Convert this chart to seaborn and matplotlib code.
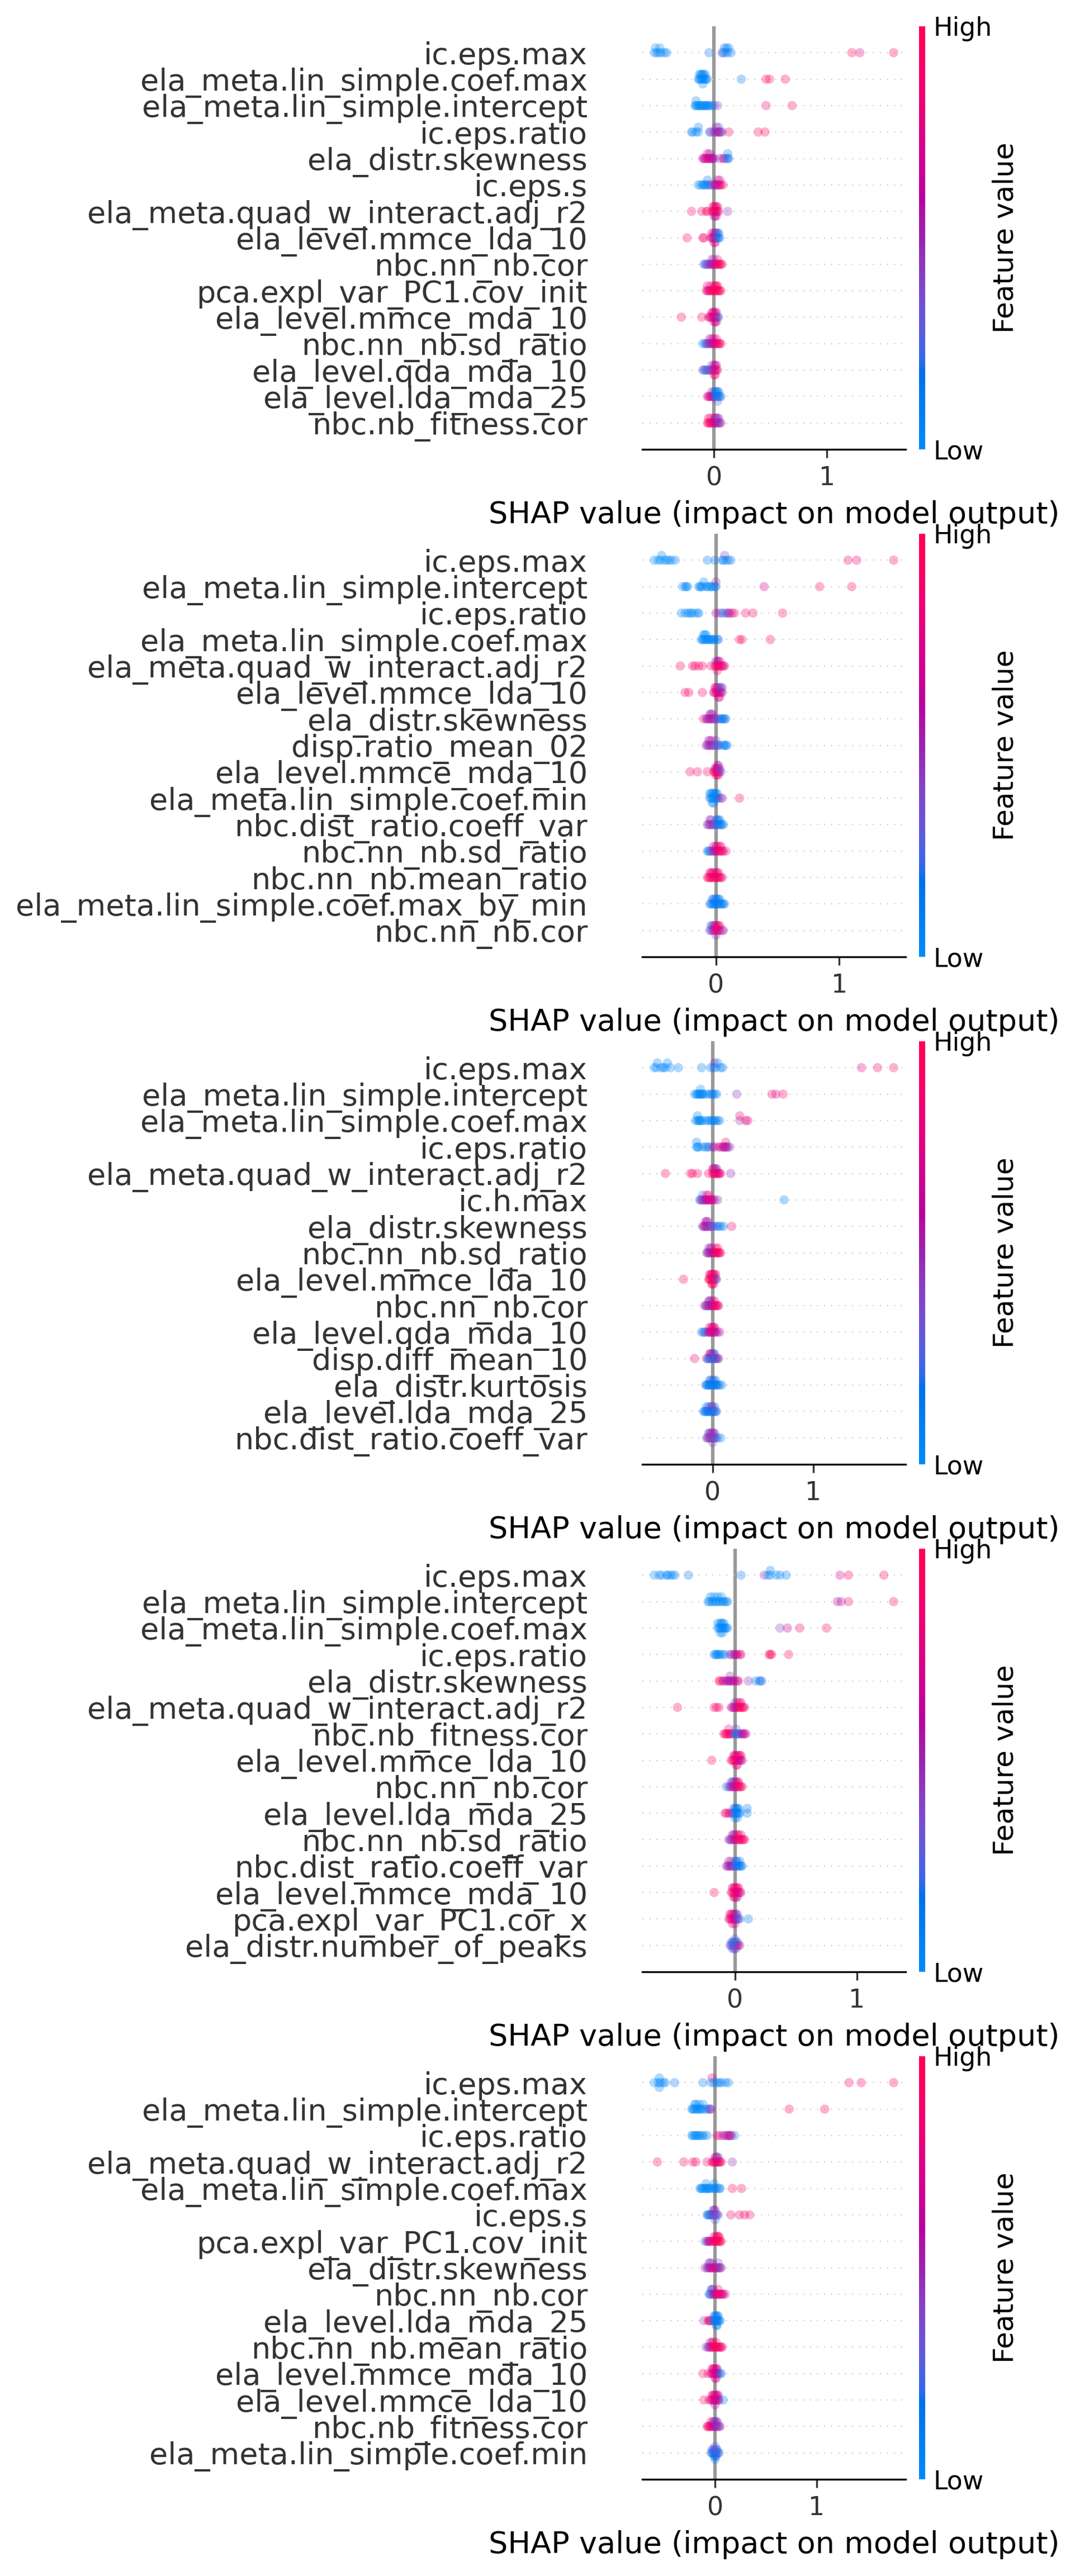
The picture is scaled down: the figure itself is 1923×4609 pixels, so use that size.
import numpy as np
import pandas as pd
import matplotlib
matplotlib.use("Agg")
import matplotlib.pyplot as plt
import seaborn as sns
from matplotlib.colors import LinearSegmentedColormap, Normalize
from matplotlib.cm import ScalarMappable

# ---------------- data (top feature first) ----------------
P1_FEATURES = ["ic.eps.max", "ela_meta.lin_simple.coef.max", "ela_meta.lin_simple.intercept", "ic.eps.ratio",
               "ela_distr.skewness", "ic.eps.s", "ela_meta.quad_w_interact.adj_r2", "ela_level.mmce_lda_10",
               "nbc.nn_nb.cor", "pca.expl_var_PC1.cov_init", "ela_level.mmce_mda_10", "nbc.nn_nb.sd_ratio",
               "ela_level.qda_mda_10", "ela_level.lda_mda_25", "nbc.nb_fitness.cor"]
P1_SHAP = [
    [-0.53,-0.52,-0.51,-0.49,-0.48,-0.47,-0.44,-0.42,-0.045,0.07,0.08,0.09,0.10,0.11,0.12,0.13,0.15,1.22,1.29,1.59],
    [-0.14,-0.13,-0.13,-0.12,-0.12,-0.11,-0.11,-0.10,-0.10,-0.10,-0.09,-0.09,-0.08,-0.08,-0.07,-0.06,0.24,0.46,0.49,0.63],
    [-0.17,-0.16,-0.16,-0.15,-0.14,-0.13,-0.12,-0.11,-0.10,-0.09,-0.08,-0.07,-0.06,-0.05,-0.04,-0.02,0.0,0.03,0.46,0.69],
    [-0.20,-0.19,-0.16,-0.14,-0.14,-0.04,-0.03,0.0,0.01,0.02,0.02,0.03,0.04,0.04,0.05,0.06,0.07,0.13,0.39,0.45],
    [-0.10,-0.09,-0.08,-0.07,-0.06,-0.06,-0.05,-0.04,-0.04,-0.03,-0.02,-0.01,0.0,0.05,0.08,0.09,0.11,0.12,0.12,0.13],
    [-0.14,-0.12,-0.10,-0.09,-0.08,-0.06,-0.06,-0.05,-0.03,-0.02,0.0,0.01,0.02,0.03,0.03,0.04,0.05,0.05,0.06,0.08],
    [-0.20,-0.11,-0.07,-0.06,-0.02,-0.01,-0.01,0.0,0.0,0.0,0.01,0.01,0.01,0.02,0.02,0.02,0.03,0.03,0.04,0.12],
    [-0.24,-0.10,-0.09,-0.03,-0.02,-0.02,-0.01,0.0,0.0,0.0,0.01,0.01,0.01,0.02,0.02,0.03,0.03,0.04,0.04,0.05],
    [-0.09,-0.08,-0.07,-0.06,-0.05,-0.04,-0.03,-0.02,-0.02,-0.01,0.0,0.0,0.01,0.02,0.03,0.03,0.04,0.05,0.06,0.07],
    [-0.07,-0.06,-0.06,-0.05,-0.04,-0.03,-0.03,-0.02,-0.01,0.0,0.0,0.01,0.01,0.02,0.02,0.03,0.03,0.04,0.05,0.06],
    [-0.29,-0.11,-0.05,-0.04,-0.03,-0.02,-0.02,-0.01,-0.01,0.0,0.0,0.0,0.01,0.01,0.01,0.02,0.02,0.02,0.03,0.04],
    [-0.10,-0.08,-0.07,-0.06,-0.05,-0.04,-0.04,-0.03,-0.02,-0.02,-0.01,0.0,0.0,0.01,0.02,0.02,0.03,0.04,0.05,0.06],
    [-0.10,-0.09,-0.08,-0.07,-0.06,-0.05,-0.04,-0.03,-0.02,-0.02,-0.01,0.0,0.0,0.0,0.01,0.01,0.01,0.02,0.02,0.03],
    [-0.06,-0.05,-0.04,-0.03,-0.02,-0.02,-0.01,0.0,0.0,0.01,0.01,0.02,0.02,0.03,0.03,0.03,0.04,0.04,0.05,0.06],
    [-0.06,-0.05,-0.05,-0.04,-0.03,-0.03,-0.02,-0.01,0.0,0.0,0.01,0.01,0.02,0.02,0.03,0.03,0.04,0.04,0.05,0.06],
]
P1_FVAL = [
    [0.02,0.0,0.05,0.03,0.0,0.04,0.02,0.05,0.1,0.45,0.05,0.1,0.02,0.08,0.12,0.05,0.1,0.95,0.75,0.95],
    [0.0,0.02,0.0,0.03,0.0,0.02,0.0,0.04,0.0,0.02,0.0,0.03,0.01,0.0,0.02,0.05,0.1,0.9,0.95,0.9],
    [0.02,0.0,0.03,0.0,0.02,0.0,0.03,0.05,0.0,0.02,0.04,0.0,0.03,0.05,0.02,0.08,0.1,0.45,0.85,0.9],
    [0.05,0.0,0.05,0.02,0.1,0.15,0.5,0.45,0.4,0.35,0.55,0.6,0.7,0.3,0.65,0.5,0.3,0.9,0.95,0.95],
    [0.6,0.7,0.75,0.7,0.8,0.65,0.7,0.75,0.6,0.7,0.6,0.55,0.6,0.5,0.6,0.75,0.3,0.05,0.1,0.15],
    [0.05,0.05,0.0,0.1,0.05,0.1,0.15,0.05,0.2,0.4,0.5,0.6,0.7,0.45,0.75,0.65,0.8,0.6,0.9,0.9],
    [0.9,0.9,0.95,0.9,0.95,0.95,0.7,1.0,0.95,0.55,1.0,0.9,0.5,0.95,0.8,0.85,0.7,0.95,0.85,0.45],
    [0.9,0.9,0.85,0.8,0.7,0.85,0.9,0.75,0.6,0.8,0.85,0.5,0.7,0.4,0.65,0.2,0.3,0.1,0.15,0.05],
    [0.25,0.3,0.2,0.4,0.35,0.5,0.45,0.6,0.5,0.55,0.65,0.4,0.7,0.8,0.85,0.9,0.9,0.95,0.9,0.95],
    [0.8,0.9,0.85,0.55,0.95,0.9,0.7,1.0,0.95,1.0,0.95,1.0,0.9,0.95,0.9,1.0,0.95,1.0,0.95,0.9],
    [0.9,0.9,0.7,0.8,0.85,0.75,0.85,0.9,0.75,0.8,0.7,0.85,0.85,0.65,0.8,0.75,0.9,0.6,0.5,0.2],
    [0.1,0.2,0.15,0.4,0.5,0.45,0.55,0.55,0.5,0.6,0.6,0.65,0.7,0.7,0.75,0.8,0.85,0.9,0.95,0.9],
    [0.3,0.2,0.25,0.3,0.2,0.35,0.3,0.4,0.45,0.4,0.3,0.5,0.7,0.85,0.8,0.6,0.9,0.85,0.7,0.8],
    [0.75,0.7,0.8,0.85,0.65,0.8,0.6,0.5,0.2,0.3,0.15,0.15,0.05,0.1,0.1,0.3,0.05,0.15,0.1,0.2],
    [0.9,0.95,0.9,0.9,0.95,0.85,0.85,0.9,0.8,0.9,0.7,0.6,0.6,0.5,0.55,0.4,0.5,0.45,0.45,0.5],
]

P2_FEATURES = ["ic.eps.max", "ela_meta.lin_simple.intercept", "ic.eps.ratio", "ela_meta.lin_simple.coef.max",
               "ela_meta.quad_w_interact.adj_r2", "ela_level.mmce_lda_10", "ela_distr.skewness", "disp.ratio_mean_02",
               "ela_level.mmce_mda_10", "ela_meta.lin_simple.coef.min", "nbc.dist_ratio.coeff_var",
               "nbc.nn_nb.sd_ratio", "nbc.nn_nb.mean_ratio", "ela_meta.lin_simple.coef.max_by_min", "nbc.nn_nb.cor"]
P2_SHAP = [
    [-0.50,-0.47,-0.45,-0.44,-0.42,-0.40,-0.38,-0.36,-0.33,-0.07,-0.01,0.05,0.06,0.07,0.08,0.10,0.12,1.07,1.14,1.44],
    [-0.27,-0.25,-0.24,-0.23,-0.14,-0.13,-0.12,-0.11,-0.10,-0.08,-0.07,-0.05,-0.04,-0.03,-0.01,0.0,0.0,0.39,0.84,1.10],
    [-0.28,-0.25,-0.23,-0.21,-0.20,-0.18,-0.15,-0.14,0.0,0.03,0.05,0.07,0.09,0.10,0.11,0.13,0.15,0.24,0.30,0.54],
    [-0.12,-0.11,-0.10,-0.10,-0.09,-0.09,-0.08,-0.08,-0.07,-0.06,-0.05,-0.04,-0.03,-0.02,-0.01,0.01,0.02,0.19,0.21,0.44],
    [-0.29,-0.19,-0.17,-0.14,-0.11,-0.04,-0.01,0.0,0.0,0.01,0.01,0.01,0.02,0.02,0.03,0.03,0.04,0.05,0.06,0.07],
    [-0.25,-0.22,-0.11,-0.02,-0.01,-0.01,0.0,0.0,0.01,0.01,0.02,0.02,0.02,0.03,0.03,0.03,0.04,0.04,0.05,0.05],
    [-0.10,-0.08,-0.07,-0.06,-0.05,-0.05,-0.04,-0.04,-0.03,-0.03,-0.02,-0.01,0.0,0.02,0.03,0.04,0.05,0.06,0.07,0.08],
    [-0.08,-0.07,-0.06,-0.06,-0.05,-0.05,-0.04,-0.03,-0.03,-0.02,-0.01,0.0,0.0,0.01,0.02,0.03,0.06,0.07,0.08,0.09],
    [-0.21,-0.15,-0.07,-0.02,-0.01,-0.01,0.0,0.0,0.0,0.01,0.01,0.01,0.01,0.02,0.02,0.02,0.02,0.03,0.03,0.04],
    [-0.05,-0.05,-0.04,-0.04,-0.03,-0.03,-0.03,-0.02,-0.02,-0.02,-0.01,-0.01,0.0,0.0,0.01,0.01,0.02,0.04,0.05,0.19],
    [-0.07,-0.06,-0.05,-0.05,-0.04,-0.04,-0.03,-0.02,-0.01,0.0,0.0,0.01,0.01,0.02,0.02,0.03,0.03,0.04,0.05,0.06],
    [-0.07,-0.06,-0.05,-0.04,-0.03,-0.02,-0.02,-0.01,0.0,0.0,0.01,0.01,0.02,0.03,0.03,0.04,0.04,0.05,0.06,0.08],
    [-0.07,-0.06,-0.05,-0.05,-0.04,-0.04,-0.03,-0.03,-0.02,-0.02,-0.01,0.0,0.0,0.01,0.01,0.02,0.02,0.03,0.04,0.05],
    [-0.05,-0.04,-0.03,-0.03,-0.02,-0.02,-0.01,-0.01,0.0,0.0,0.01,0.01,0.02,0.02,0.03,0.03,0.04,0.05,0.06,0.07],
    [-0.05,-0.04,-0.04,-0.03,-0.03,-0.02,-0.02,-0.01,-0.01,0.0,0.0,0.0,0.01,0.01,0.02,0.02,0.03,0.03,0.05,0.06],
]
P2_FVAL = [
    [0.02,0.0,0.05,0.03,0.0,0.04,0.02,0.05,0.03,0.1,0.1,0.05,0.1,0.4,0.02,0.08,0.1,0.75,0.9,0.9],
    [0.05,0.0,0.03,0.05,0.02,0.0,0.04,0.02,0.0,0.03,0.05,0.02,0.0,0.04,0.08,0.05,0.45,0.7,0.9,0.9],
    [0.05,0.02,0.0,0.04,0.0,0.03,0.05,0.02,0.6,0.5,0.2,0.1,0.4,0.55,0.45,0.75,0.85,0.9,0.9,0.9],
    [0.02,0.0,0.03,0.0,0.02,0.0,0.04,0.0,0.02,0.03,0.0,0.05,0.02,0.04,0.06,0.08,0.1,0.9,0.95,0.9],
    [0.9,0.9,0.95,0.9,0.9,0.85,0.95,0.9,0.5,1.0,0.45,0.85,0.95,0.6,0.9,0.8,0.95,0.9,0.9,0.75],
    [0.9,0.9,0.9,0.7,0.8,0.85,0.85,0.7,0.75,0.9,0.8,0.85,0.65,0.7,0.3,0.8,0.75,0.2,0.6,0.5],
    [0.8,0.6,0.55,0.5,0.6,0.4,0.45,0.6,0.65,0.55,0.5,0.55,0.4,0.35,0.2,0.3,0.1,0.05,0.1,0.15],
    [0.5,0.45,0.5,0.4,0.55,0.6,0.45,0.5,0.7,0.4,0.45,0.3,0.35,0.35,0.25,0.2,0.1,0.1,0.05,0.1],
    [0.9,0.9,0.9,0.9,0.85,0.8,0.95,0.7,0.9,0.9,0.6,0.95,0.7,0.85,0.75,0.85,0.55,0.8,0.4,0.3],
    [0.02,0.0,0.05,0.0,0.03,0.0,0.05,0.02,0.0,0.04,0.0,0.05,0.02,0.1,0.0,0.05,0.2,0.45,0.5,0.9],
    [0.5,0.45,0.5,0.45,0.4,0.5,0.5,0.45,0.4,0.35,0.3,0.2,0.1,0.1,0.1,0.05,0.15,0.1,0.05,0.1],
    [0.05,0.1,0.15,0.3,0.4,0.5,0.6,0.55,0.6,0.7,0.7,0.85,0.8,0.9,0.9,0.95,0.9,0.9,0.85,0.75],
    [0.9,0.95,1.0,0.9,0.9,0.95,0.95,0.8,0.9,0.85,0.85,0.95,0.75,0.9,0.8,0.85,0.9,0.95,0.9,0.85],
    [0.1,0.05,0.1,0.2,0.05,0.1,0.15,0.3,0.05,0.1,0.1,0.05,0.1,0.05,0.15,0.1,0.05,0.1,0.05,0.1],
    [0.3,0.4,0.2,0.35,0.3,0.5,0.4,0.7,0.6,0.8,0.75,0.45,0.85,0.8,0.9,0.85,0.85,0.9,0.6,0.5],
]

P3_FEATURES = ["ic.eps.max", "ela_meta.lin_simple.intercept", "ela_meta.lin_simple.coef.max", "ic.eps.ratio",
               "ela_meta.quad_w_interact.adj_r2", "ic.h.max", "ela_distr.skewness", "nbc.nn_nb.sd_ratio",
               "ela_level.mmce_lda_10", "nbc.nn_nb.cor", "ela_level.qda_mda_10", "disp.diff_mean_10",
               "ela_distr.kurtosis", "ela_level.lda_mda_25", "nbc.dist_ratio.coeff_var"]
P3_SHAP = [
    [-0.58,-0.56,-0.55,-0.51,-0.49,-0.47,-0.45,-0.42,-0.34,-0.11,-0.02,0.01,0.02,0.03,0.05,0.08,0.10,1.48,1.64,1.80],
    [-0.18,-0.16,-0.15,-0.14,-0.13,-0.12,-0.12,-0.11,-0.10,-0.09,-0.06,-0.03,-0.01,0.0,0.02,0.04,0.24,0.59,0.63,0.70],
    [-0.17,-0.15,-0.15,-0.14,-0.13,-0.12,-0.11,-0.08,-0.05,-0.03,-0.01,0.0,0.02,0.03,0.05,0.07,0.27,0.27,0.33,0.35],
    [-0.16,-0.16,-0.15,-0.14,-0.10,-0.07,-0.05,-0.03,0.0,0.02,0.06,0.08,0.10,0.11,0.12,0.13,0.13,0.14,0.15,0.17],
    [-0.47,-0.22,-0.20,-0.15,-0.04,0.0,0.0,0.01,0.01,0.02,0.02,0.03,0.03,0.04,0.04,0.05,0.06,0.07,0.08,0.18],
    [-0.13,-0.12,-0.11,-0.10,-0.10,-0.09,-0.08,-0.07,-0.06,-0.06,-0.05,-0.04,-0.04,-0.03,-0.02,-0.01,0.0,0.02,0.05,0.71],
    [-0.10,-0.09,-0.08,-0.07,-0.07,-0.06,-0.06,-0.05,-0.05,-0.04,-0.03,-0.02,-0.01,0.0,0.02,0.04,0.06,0.08,0.11,0.19],
    [-0.06,-0.05,-0.04,-0.04,-0.03,-0.02,-0.02,-0.01,-0.01,0.0,0.01,0.02,0.03,0.03,0.04,0.05,0.05,0.06,0.07,0.08],
    [-0.29,-0.04,-0.03,-0.03,-0.02,-0.02,-0.01,-0.01,-0.01,0.0,0.0,0.0,0.01,0.01,0.01,0.02,0.02,0.03,0.03,0.04],
    [-0.08,-0.07,-0.06,-0.05,-0.04,-0.04,-0.03,-0.03,-0.02,-0.02,-0.01,0.0,0.0,0.01,0.02,0.02,0.03,0.04,0.05,0.06],
    [-0.11,-0.09,-0.08,-0.07,-0.05,-0.04,-0.03,-0.03,-0.02,-0.01,-0.01,0.0,0.0,0.01,0.01,0.02,0.02,0.03,0.05,0.07],
    [-0.18,-0.06,-0.05,-0.04,-0.03,-0.03,-0.02,-0.02,-0.01,-0.01,0.0,0.0,0.01,0.01,0.02,0.02,0.03,0.04,0.05,0.06],
    [-0.07,-0.06,-0.05,-0.04,-0.03,-0.03,-0.02,-0.02,-0.01,0.0,0.0,0.01,0.01,0.02,0.03,0.03,0.04,0.05,0.07,0.09],
    [-0.09,-0.08,-0.07,-0.06,-0.06,-0.05,-0.04,-0.04,-0.03,-0.02,-0.02,-0.01,-0.01,0.0,0.0,0.01,0.02,0.02,0.03,0.04],
    [-0.06,-0.05,-0.04,-0.04,-0.03,-0.03,-0.02,-0.02,-0.01,-0.01,0.0,0.0,0.0,0.01,0.01,0.02,0.02,0.03,0.05,0.08],
]
P3_FVAL = [
    [0.02,0.0,0.05,0.03,0.0,0.04,0.02,0.05,0.08,0.1,0.1,0.2,0.45,0.1,0.05,0.1,0.05,0.75,0.9,0.9],
    [0.0,0.03,0.0,0.02,0.0,0.04,0.0,0.02,0.03,0.05,0.05,0.08,0.1,0.05,0.08,0.1,0.45,0.85,0.75,0.9],
    [0.02,0.0,0.05,0.03,0.0,0.04,0.02,0.05,0.08,0.05,0.1,0.02,0.1,0.05,0.03,0.08,0.45,0.85,0.75,0.8],
    [0.0,0.05,0.02,0.0,0.1,0.15,0.1,0.15,0.5,0.6,0.8,0.7,0.55,0.65,0.6,0.75,0.85,0.5,0.55,0.45],
    [0.9,0.9,0.95,0.9,0.85,0.95,0.85,1.0,0.9,0.95,0.6,0.9,0.2,1.0,0.8,0.95,0.85,0.7,0.8,0.5],
    [0.2,0.3,0.4,0.5,0.3,0.3,0.45,0.55,0.6,0.7,0.65,0.7,0.85,0.75,0.8,0.85,0.7,0.6,0.5,0.1],
    [0.45,0.55,0.5,0.6,0.5,0.5,0.6,0.55,0.55,0.45,0.5,0.4,0.45,0.35,0.3,0.2,0.1,0.15,0.1,0.85],
    [0.5,0.45,0.5,0.45,0.55,0.5,0.6,0.45,0.5,0.5,0.6,0.8,0.9,0.9,0.95,1.0,0.95,0.95,0.9,0.85],
    [0.9,0.9,0.95,0.9,1.0,0.85,0.95,0.85,1.0,1.0,0.9,0.95,0.95,0.8,0.9,0.9,0.95,0.85,0.9,0.2],
    [0.45,0.5,0.4,0.5,0.55,0.45,0.45,0.55,0.5,0.45,0.55,0.6,0.5,0.8,0.9,0.85,0.95,0.9,0.85,0.8],
    [0.15,0.1,0.2,0.3,0.4,0.5,0.6,0.65,0.7,0.75,0.8,0.8,0.9,0.75,0.85,0.7,0.75,0.65,0.5,0.6],
    [0.85,0.7,0.2,0.3,0.15,0.7,0.25,0.65,0.1,0.2,0.3,0.75,0.15,0.8,0.5,0.1,0.2,0.35,0.15,0.7],
    [0.1,0.05,0.15,0.1,0.05,0.2,0.1,0.25,0.15,0.05,0.2,0.1,0.15,0.05,0.1,0.2,0.05,0.15,0.1,0.1],
    [0.15,0.1,0.2,0.05,0.1,0.1,0.15,0.2,0.1,0.2,0.3,0.1,0.3,0.05,0.85,0.15,0.1,0.05,0.2,0.25],
    [0.4,0.45,0.4,0.4,0.5,0.3,0.45,0.55,0.4,0.3,0.5,0.8,0.35,0.45,0.4,0.35,0.45,0.4,0.2,0.1],
]

P4_FEATURES = ["ic.eps.max", "ela_meta.lin_simple.intercept", "ela_meta.lin_simple.coef.max", "ic.eps.ratio",
               "ela_distr.skewness", "ela_meta.quad_w_interact.adj_r2", "nbc.nb_fitness.cor", "ela_level.mmce_lda_10",
               "nbc.nn_nb.cor", "ela_level.lda_mda_25", "nbc.nn_nb.sd_ratio", "nbc.dist_ratio.coeff_var",
               "ela_level.mmce_mda_10", "pca.expl_var_PC1.cor_x", "ela_distr.number_of_peaks"]
P4_SHAP = [
    [-0.66,-0.62,-0.60,-0.56,-0.55,-0.53,-0.51,-0.49,-0.38,0.05,0.24,0.27,0.29,0.29,0.34,0.37,0.42,0.86,0.93,1.22],
    [-0.22,-0.21,-0.20,-0.19,-0.18,-0.17,-0.16,-0.15,-0.14,-0.13,-0.12,-0.11,-0.10,-0.09,-0.07,-0.06,0.84,0.87,0.93,1.30],
    [-0.14,-0.14,-0.13,-0.12,-0.12,-0.12,-0.11,-0.11,-0.10,-0.10,-0.10,-0.09,-0.09,-0.08,-0.07,-0.06,0.37,0.43,0.53,0.75],
    [-0.17,-0.16,-0.15,-0.14,-0.13,-0.12,-0.10,-0.08,-0.04,-0.03,-0.01,0.0,0.01,0.02,0.04,0.05,0.28,0.29,0.30,0.44],
    [-0.13,-0.12,-0.10,-0.09,-0.07,-0.06,-0.05,-0.04,-0.04,-0.03,-0.02,-0.01,0.0,0.02,0.03,0.11,0.17,0.20,0.21,0.22],
    [-0.47,-0.17,-0.15,-0.13,-0.03,-0.02,-0.01,0.0,0.0,0.01,0.02,0.02,0.03,0.04,0.04,0.05,0.05,0.06,0.07,0.08],
    [-0.09,-0.08,-0.07,-0.06,-0.05,-0.05,-0.04,-0.03,-0.02,0.0,0.01,0.01,0.02,0.03,0.04,0.05,0.06,0.07,0.08,0.09],
    [-0.19,-0.03,-0.02,-0.01,-0.01,0.0,0.0,0.01,0.01,0.01,0.02,0.02,0.02,0.03,0.03,0.04,0.04,0.05,0.05,0.06],
    [-0.07,-0.05,-0.04,-0.03,-0.03,-0.02,-0.02,-0.01,-0.01,0.0,0.0,0.01,0.01,0.02,0.02,0.03,0.03,0.04,0.05,0.06],
    [-0.08,-0.07,-0.05,-0.04,-0.02,-0.01,-0.01,0.0,0.0,0.0,0.01,0.01,0.02,0.02,0.02,0.03,0.03,0.04,0.10,0.10],
    [-0.05,-0.04,-0.03,-0.02,-0.02,-0.01,-0.01,0.0,0.0,0.01,0.02,0.02,0.03,0.03,0.04,0.05,0.05,0.06,0.07,0.08],
    [-0.07,-0.06,-0.05,-0.05,-0.04,-0.03,-0.03,-0.02,-0.01,0.0,0.0,0.01,0.01,0.02,0.02,0.03,0.04,0.04,0.05,0.06],
    [-0.17,-0.03,-0.02,-0.02,-0.01,-0.01,-0.01,0.0,0.0,0.0,0.01,0.01,0.01,0.02,0.02,0.02,0.03,0.03,0.04,0.05],
    [-0.05,-0.04,-0.04,-0.03,-0.03,-0.02,-0.02,-0.02,-0.01,-0.01,0.0,0.0,0.0,0.01,0.01,0.02,0.02,0.03,0.04,0.11],
    [-0.04,-0.03,-0.03,-0.02,-0.02,-0.02,-0.01,-0.01,-0.01,0.0,0.0,0.0,0.0,0.01,0.01,0.01,0.02,0.02,0.03,0.04],
]
P4_FVAL = [
    [0.02,0.0,0.05,0.03,0.0,0.04,0.02,0.05,0.1,0.1,0.45,0.05,0.0,0.1,0.03,0.05,0.1,0.75,0.9,0.9],
    [0.02,0.0,0.05,0.0,0.03,0.0,0.04,0.02,0.0,0.05,0.02,0.0,0.04,0.06,0.05,0.08,0.6,0.55,0.9,0.9],
    [0.0,0.03,0.0,0.02,0.0,0.05,0.0,0.03,0.0,0.02,0.04,0.0,0.03,0.02,0.05,0.04,0.4,0.65,0.9,0.9],
    [0.05,0.0,0.03,0.1,0.0,0.05,0.02,0.1,0.4,0.45,0.5,0.55,0.65,0.7,0.75,0.8,0.9,0.95,0.95,0.9],
    [0.9,0.95,0.85,0.6,0.55,0.6,0.55,0.65,0.5,0.6,0.5,0.55,0.6,0.65,0.75,0.45,0.1,0.15,0.1,0.2],
    [0.9,0.9,0.95,0.9,0.85,0.55,0.6,0.5,0.4,0.6,0.85,0.7,0.95,1.0,0.85,0.95,0.9,0.9,0.95,0.9],
    [0.9,0.95,0.85,0.9,0.85,0.85,0.9,0.8,0.85,0.15,0.1,0.35,0.05,0.2,0.3,0.5,0.6,0.55,0.65,0.7],
    [0.9,0.85,0.9,0.95,0.8,0.9,0.85,0.85,0.7,0.95,0.8,0.9,0.75,0.75,0.9,0.7,0.85,0.6,0.85,0.65],
    [0.15,0.4,0.45,0.5,0.4,0.55,0.3,0.6,0.5,0.65,0.2,0.7,0.75,0.8,0.85,0.85,0.95,0.9,0.95,0.9],
    [0.9,0.85,0.9,0.8,0.7,0.2,0.3,0.1,0.05,0.1,0.05,0.1,0.1,0.15,0.05,0.05,0.1,0.1,0.15,0.1],
    [0.5,0.45,0.5,0.45,0.5,0.5,0.4,0.55,0.6,0.8,0.9,0.95,0.95,0.9,0.9,0.95,0.85,0.9,0.85,0.9],
    [0.45,0.5,0.55,0.45,0.5,0.6,0.7,0.55,0.4,0.3,0.2,0.2,0.25,0.15,0.1,0.1,0.1,0.05,0.15,0.1],
    [0.9,0.9,0.85,0.6,0.95,0.85,0.8,0.9,0.95,0.9,0.85,0.8,0.95,0.9,0.85,0.5,0.8,0.9,0.75,0.7],
    [0.85,0.9,0.8,0.8,0.85,0.75,0.9,0.85,0.7,0.95,0.65,0.7,0.75,0.6,0.6,0.5,0.25,0.3,0.2,0.1],
    [0.3,0.25,0.3,0.35,0.3,0.25,0.3,0.1,0.35,0.25,0.2,0.3,0.3,0.3,0.25,0.4,0.35,0.2,0.4,0.85],
]

P5_FEATURES = ["ic.eps.max", "ela_meta.lin_simple.intercept", "ic.eps.ratio", "ela_meta.quad_w_interact.adj_r2",
               "ela_meta.lin_simple.coef.max", "ic.eps.s", "pca.expl_var_PC1.cov_init", "ela_distr.skewness",
               "nbc.nn_nb.cor", "ela_level.lda_mda_25", "nbc.nn_nb.mean_ratio", "ela_level.mmce_mda_10",
               "ela_level.mmce_lda_10", "nbc.nb_fitness.cor", "ela_meta.lin_simple.coef.min"]
P5_SHAP = [
    [-0.60,-0.56,-0.55,-0.55,-0.54,-0.51,-0.49,-0.40,-0.12,-0.04,-0.03,-0.01,0.02,0.04,0.06,0.10,0.13,1.32,1.44,1.76],
    [-0.23,-0.22,-0.21,-0.20,-0.19,-0.19,-0.18,-0.17,-0.16,-0.15,-0.14,-0.13,-0.12,-0.10,-0.08,-0.06,-0.05,-0.04,0.73,1.08],
    [-0.23,-0.22,-0.20,-0.19,-0.18,-0.16,-0.15,-0.13,-0.11,-0.08,0.02,0.05,0.08,0.10,0.12,0.13,0.14,0.15,0.16,0.19],
    [-0.57,-0.31,-0.22,-0.19,-0.08,-0.03,-0.02,-0.01,0.0,0.0,0.01,0.01,0.02,0.02,0.03,0.03,0.04,0.05,0.06,0.17],
    [-0.15,-0.14,-0.13,-0.12,-0.10,-0.09,-0.09,-0.08,-0.07,-0.06,-0.05,-0.03,-0.01,-0.01,0.0,0.02,0.04,0.05,0.17,0.26],
    [-0.08,-0.07,-0.06,-0.05,-0.04,-0.03,-0.02,-0.02,-0.01,-0.01,0.0,0.0,0.0,0.01,0.02,0.03,0.155,0.24,0.29,0.34],
    [-0.10,-0.08,-0.07,-0.06,-0.05,-0.04,-0.02,-0.01,-0.01,0.0,0.01,0.01,0.02,0.02,0.03,0.03,0.04,0.04,0.05,0.06],
    [-0.10,-0.08,-0.07,-0.06,-0.06,-0.05,-0.05,-0.04,-0.03,-0.03,-0.02,-0.01,0.0,0.01,0.02,0.03,0.03,0.04,0.05,0.06],
    [-0.06,-0.05,-0.04,-0.04,-0.03,-0.03,-0.02,-0.02,-0.01,0.0,0.01,0.02,0.03,0.03,0.04,0.05,0.06,0.07,0.08,0.10],
    [-0.11,-0.07,-0.06,-0.05,-0.04,-0.02,-0.01,-0.01,0.0,0.0,0.01,0.01,0.01,0.02,0.02,0.02,0.03,0.03,0.04,0.05],
    [-0.09,-0.07,-0.06,-0.05,-0.05,-0.04,-0.03,-0.03,-0.02,-0.02,-0.01,0.0,0.01,0.01,0.02,0.03,0.04,0.05,0.06,0.07],
    [-0.12,-0.07,-0.04,-0.03,-0.03,-0.02,-0.02,-0.01,-0.01,0.0,0.0,0.0,0.01,0.01,0.01,0.02,0.02,0.03,0.05,0.06],
    [-0.11,-0.06,-0.04,-0.03,-0.03,-0.02,-0.02,-0.01,-0.01,0.0,0.0,0.0,0.01,0.01,0.02,0.02,0.03,0.03,0.04,0.08],
    [-0.08,-0.07,-0.06,-0.05,-0.04,-0.04,-0.03,-0.02,-0.02,-0.01,-0.01,0.0,0.0,0.01,0.01,0.02,0.02,0.03,0.04,0.05],
    [-0.04,-0.03,-0.03,-0.02,-0.02,-0.01,-0.01,-0.01,0.0,0.0,0.0,0.0,0.0,0.01,0.01,0.01,0.02,0.02,0.03,0.04],
]
P5_FVAL = [
    [0.02,0.0,0.05,0.03,0.0,0.04,0.02,0.1,0.1,0.05,0.75,0.1,0.02,0.08,0.1,0.05,0.1,0.9,0.9,0.9],
    [0.02,0.0,0.05,0.0,0.03,0.0,0.04,0.02,0.0,0.05,0.02,0.0,0.04,0.06,0.05,0.08,0.45,0.5,0.9,0.9],
    [0.02,0.0,0.05,0.0,0.03,0.0,0.04,0.02,0.05,0.08,0.85,0.8,0.7,0.55,0.45,0.6,0.5,0.85,0.7,0.2],
    [0.9,0.9,0.9,0.9,0.85,0.9,0.9,0.95,0.85,0.75,0.9,0.7,0.8,0.85,0.85,0.2,0.9,0.85,0.9,0.45],
    [0.02,0.0,0.05,0.0,0.03,0.0,0.04,0.02,0.0,0.05,0.02,0.0,0.04,0.06,0.05,0.08,0.1,0.05,0.9,0.9],
    [0.15,0.1,0.2,0.1,0.3,0.2,0.4,0.2,0.3,0.45,0.5,0.6,0.25,0.35,0.25,0.3,0.9,0.9,0.9,0.9],
    [0.15,0.5,0.55,0.6,0.65,0.7,0.85,0.9,0.85,0.95,1.0,0.9,1.0,0.9,0.95,0.95,1.0,0.9,0.95,0.9],
    [0.45,0.5,0.45,0.5,0.5,0.55,0.45,0.6,0.55,0.4,0.8,0.9,0.85,0.8,0.55,0.5,0.4,0.45,0.5,0.45],
    [0.2,0.15,0.3,0.2,0.25,0.15,0.4,0.7,0.55,0.6,0.8,0.85,0.9,0.85,0.85,0.9,0.85,0.8,0.75,0.7],
    [0.45,0.9,0.85,0.9,0.8,0.2,0.1,0.3,0.05,0.1,0.1,0.05,0.1,0.05,0.1,0.15,0.1,0.05,0.15,0.1],
    [0.45,0.5,0.45,0.55,0.45,0.5,0.8,0.9,0.85,0.85,0.9,0.95,1.0,0.9,0.95,0.9,0.95,0.9,0.85,0.9],
    [0.9,0.9,0.8,0.75,0.8,0.7,0.75,0.8,0.85,0.75,0.9,0.7,0.7,0.85,0.75,0.65,0.6,0.6,0.2,0.1],
    [0.9,0.85,0.8,0.75,0.85,0.7,0.8,0.65,0.85,0.7,0.85,0.6,0.75,0.9,0.8,0.55,0.7,0.65,0.6,0.1],
    [0.85,0.9,0.95,0.9,0.85,0.85,0.8,0.75,0.8,0.7,0.7,0.6,0.3,0.55,0.2,0.5,0.6,0.45,0.35,0.5],
    [0.2,0.15,0.25,0.2,0.3,0.1,0.25,0.2,0.15,0.3,0.2,0.25,0.1,0.2,0.3,0.15,0.2,0.25,0.3,0.2],
]

XLABEL = "SHAP value (impact on model output)"
CBAR_LABEL = "Feature value"
CBAR_TICKS = ["Low", "High"]

PANELS = [
    (P1_FEATURES, P1_SHAP, P1_FVAL),
    (P2_FEATURES, P2_SHAP, P2_FVAL),
    (P3_FEATURES, P3_SHAP, P3_FVAL),
    (P4_FEATURES, P4_SHAP, P4_FVAL),
    (P5_FEATURES, P5_SHAP, P5_FVAL),
]

# ---------------- shap "red_blue" colormap (Lch interpolation) ----------------
def lch2rgb(l, c, h):
    a = c * np.cos(h)
    b = c * np.sin(h)
    fy = (l + 16.0) / 116.0
    fx = fy + a / 500.0
    fz = fy - b / 200.0
    def finv(t):
        return np.where(t > 6 / 29, t ** 3, 3 * (6 / 29) ** 2 * (t - 4 / 29))
    xyz = np.array([0.95047 * finv(fx), finv(fy), 1.08883 * finv(fz)])
    xyz_from_rgb = np.array([[0.412453, 0.357580, 0.180423],
                             [0.212671, 0.715160, 0.072169],
                             [0.019334, 0.119193, 0.950227]])
    rgb = np.linalg.inv(xyz_from_rgb) @ xyz
    rgb = np.where(rgb > 0.0031308, 1.055 * np.power(np.clip(rgb, 1e-12, None), 1 / 2.4) - 0.055, rgb * 12.92)
    return np.clip(rgb, 0, 1)

blue_lch = [54.0, 70.0, 4.6588]
red_lch = [54.0, 90.0, 0.35470565 + 2 * np.pi]
l_mid = 40.0
nsteps = 100
l_vals = list(np.linspace(blue_lch[0], l_mid, nsteps // 2)) + list(np.linspace(l_mid, red_lch[0], nsteps // 2))
c_vals = np.linspace(blue_lch[1], red_lch[1], nsteps)
h_vals = np.linspace(blue_lch[2], red_lch[2], nsteps)
cols = [lch2rgb(l, c, h) for l, c, h in zip(l_vals, c_vals, h_vals)]
red_blue = LinearSegmentedColormap.from_list("red_blue", cols)

# ---------------- beeswarm layout (shap summary algorithm) ----------------
def beeswarm_offsets(vals, row_height=0.4, nbins=100):
    vals = np.asarray(vals, dtype=float)
    n = len(vals)
    quant = np.round(nbins * (vals - vals.min()) / (vals.max() - vals.min() + 1e-8))
    order = np.argsort(quant, kind="stable")
    ys = np.zeros(n)
    layer = 0
    last_bin = -1
    for ind in order:
        if quant[ind] != last_bin:
            layer = 0
        ys[ind] = np.ceil(layer / 2) * ((layer % 2) * 2 - 1)
        layer += 1
        last_bin = quant[ind]
    ys *= 0.9 * (row_height / np.max(ys + 1))
    return ys

# ---------------- figure ----------------
W, H = 1923, 4609
DPI = 300
fig = plt.figure(figsize=(W / DPI, H / DPI), dpi=DPI)
axis_color = "#333333"

ax_left, ax_right = 1149, 1620
cb_left, cb_w = 1644, 11
panel_top0, panel_step, panel_h = 47, 908, 757

for k, (feats, shaps, fvals) in enumerate(PANELS):
    top = panel_top0 + panel_step * k
    bottom = top + panel_h
    rect = [ax_left / W, 1 - bottom / H, (ax_right - ax_left) / W, panel_h / H]
    ax = fig.add_axes(rect)
    nf = len(feats)
    ax.axvline(x=0, color="#999999", zorder=-1)
    rows = []
    for j in range(nf):
        pos = nf - 1 - j
        ax.axhline(y=pos, color="#cccccc", lw=0.5, dashes=(1, 5), zorder=-1)
        offs = beeswarm_offsets(shaps[j])
        for s, f, o in zip(shaps[j], fvals[j], offs):
            rows.append({"shap": s, "y": pos + o, "fval": f, "pos": pos})
    df = pd.DataFrame(rows).sort_values("pos", kind="stable")
    sns.scatterplot(data=df, x="shap", y="y", hue="fval", palette=red_blue, hue_norm=(0, 1),
                    s=16, alpha=0.3, linewidth=0, legend=False, zorder=3, ax=ax)

    ax.xaxis.set_ticks_position("bottom")
    ax.yaxis.set_ticks_position("none")
    for sp in ("right", "top", "left"):
        ax.spines[sp].set_visible(False)
    ax.tick_params(color=axis_color, labelcolor=axis_color)
    ax.set_yticks(range(nf))
    ax.set_yticklabels(list(reversed(feats)), fontsize=13)
    ax.tick_params("y", length=20, width=0.5, which="major")
    ax.tick_params("x", labelsize=11)
    ax.set_ylim(-1, nf)
    ax.set_ylabel("")
    ax.set_xlabel(XLABEL, fontsize=13)

    cax = fig.add_axes([cb_left / W, 1 - bottom / H, cb_w / W, panel_h / H])
    sm = ScalarMappable(cmap=red_blue, norm=Normalize(0, 1))
    sm.set_array([])
    cb = fig.colorbar(sm, cax=cax, ticks=[0, 1])
    cb.set_ticklabels(CBAR_TICKS)
    cb.set_label(CBAR_LABEL, size=12, labelpad=0)
    cb.ax.tick_params(labelsize=11, length=0)
    cb.outline.set_visible(False)

fig.savefig("out.png", dpi=DPI)
